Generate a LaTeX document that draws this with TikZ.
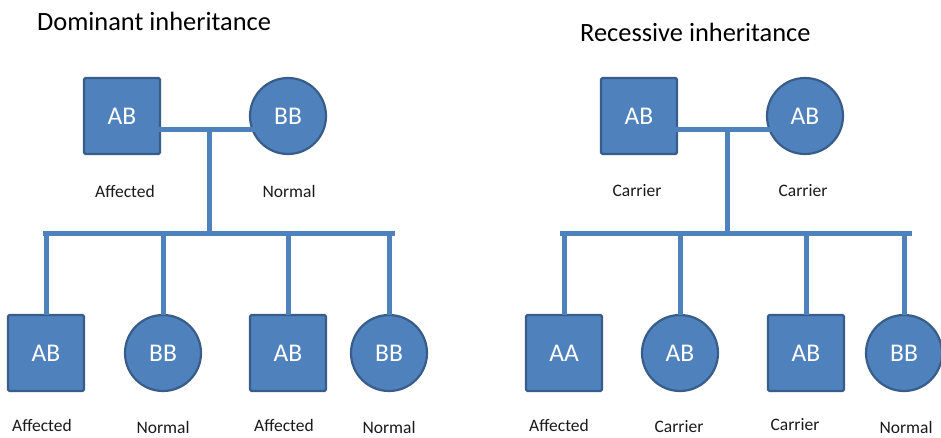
\documentclass[tikz,border=0pt]{standalone}
\usepackage{fontspec}
\setmainfont{Carlito}
\usetikzlibrary{calc}

\definecolor{pedfill}{HTML}{4F81BD}
\definecolor{pededge}{HTML}{385D8A}
\definecolor{pedline}{HTML}{4F81BD}
\definecolor{labeltext}{HTML}{1A1A1A}

\tikzset{
  male/.style={rectangle, draw=pededge, fill=pedfill, line width=2.2pt,
    minimum size=76pt, inner sep=0pt, rounded corners=1.5pt,
    text=white, font=\fontsize{25.5}{27}\selectfont},
  female/.style={circle, draw=pededge, fill=pedfill, line width=2.2pt,
    minimum size=76pt, inner sep=0pt,
    text=white, font=\fontsize{25.5}{27}\selectfont},
  status/.style={text=labeltext, font=\fontsize{17.5}{19}\selectfont, inner sep=0pt},
  heading/.style={text=black, font=\fontsize{26.4}{29}\selectfont, inner sep=0pt, anchor=base west},
  conn/.style={draw=pedline, line width=5pt},
}

\begin{document}
\begin{tikzpicture}[x=1pt, y=-1pt]
  \useasboundingbox (0,0) rectangle (941,437);

  % ---------------- Dominant inheritance ----------------
  \node[heading] (tdom) at (37,30) {Dominant inheritance};

  % parents
  \node[male]   (df)  at (122,116) {AB};
  \node[female] (dm)  at (288,116) {BB};
  \node[status] (dfl) at (125,191) {Affected};
  \node[status] (dml) at (289,191) {Normal};

  % children
  \node[male]   (dc1) at (46,353)  {AB};
  \node[female] (dc2) at (163,353) {BB};
  \node[male]   (dc3) at (288,353) {AB};
  \node[female] (dc4) at (389,353) {BB};
  \node[status] (dc1l) at (42,425)  {Affected};
  \node[status] (dc2l) at (163,427) {Normal};
  \node[status] (dc3l) at (284,425) {Affected};
  \node[status] (dc4l) at (389,427) {Normal};

  % marriage line, descent line and sibship line
  \coordinate (dmar) at (209,129);
  \coordinate (dsib) at (209,233);
  \coordinate (dsl)  at (43,233);
  \coordinate (dsr)  at (395,233);
  \draw[conn] ([xshift=13pt,yshift=-13pt]df.center) -- ([xshift=22pt,yshift=-13pt]dm.center);
  \draw[conn] (dmar) -- (dsib);
  \draw[conn] (dsl) -- (dsr);
  \foreach \c in {dc1,dc2,dc3,dc4}
    \draw[conn] (dsib -| \c.north) -- ([yshift=-1pt]\c.north);

  % ---------------- Recessive inheritance ----------------
  \node[heading] (trec) at (580,41) {Recessive inheritance};

  % parents
  \node[male]   (rf)  at (639,116) {AB};
  \node[female] (rm)  at (805,116) {AB};
  \node[status] (rfl) at (637,191) {Carrier};
  \node[status] (rml) at (803,191) {Carrier};

  % children
  \node[male]   (rc1) at (564,353) {AA};
  \node[female] (rc2) at (680,353) {AB};
  \node[male]   (rc3) at (806,353) {AB};
  \node[female] (rc4) at (904,353) {BB};
  \node[status] (rc1l) at (559,425) {Affected};
  \node[status] (rc2l) at (679,427) {Carrier};
  \node[status] (rc3l) at (795,425) {Carrier};
  \node[status] (rc4l) at (906,427) {Normal};

  % marriage line, descent line and sibship line
  \coordinate (rmar) at (727,129);
  \coordinate (rsib) at (727,233);
  \coordinate (rsl)  at (560,233);
  \coordinate (rsr)  at (912,233);
  \draw[conn] ([xshift=13pt,yshift=-13pt]rf.center) -- ([xshift=22pt,yshift=-13pt]rm.center);
  \draw[conn] (rmar) -- (rsib);
  \draw[conn] (rsl) -- (rsr);
  \foreach \c in {rc1,rc2,rc3,rc4}
    \draw[conn] (rsib -| \c.north) -- ([yshift=-1pt]\c.north);
\end{tikzpicture}
\end{document}
